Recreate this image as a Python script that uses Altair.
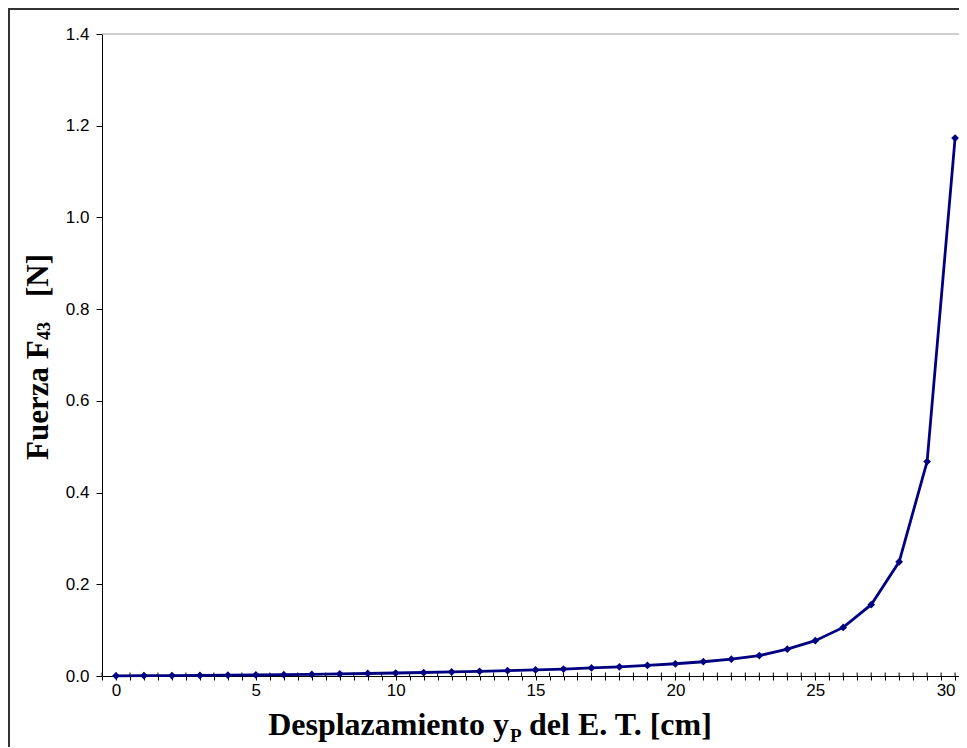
import altair as alt
import pandas as pd

# ---- data ----
desplazamiento = list(range(0, 31))
fuerza = [0.0004, 0.0006, 0.0009, 0.0013, 0.0017, 0.0022, 0.0028, 0.0036, 0.0045, 0.0055,
          0.0065, 0.0076, 0.0088, 0.0101, 0.0116, 0.0133, 0.0152, 0.0175, 0.0201, 0.0231,
          0.0267, 0.0311, 0.0366, 0.0445, 0.0585, 0.0770, 0.1060, 0.1555, 0.2490, 0.4675,
          1.1730]

y_ticks = [0.0, 0.2, 0.4, 0.6, 0.8, 1.0, 1.2, 1.4]
x_ticks = [i / 2 for i in range(-1, 61)]        # every 0.5 cm, labelled every 5
x_domain = [-0.5, 30.14]

x_title_main = "Desplazamiento y"
x_title_sub = "P"
x_title_rest = "del E. T. [cm]"
y_title_main = "Fuerza F"
y_title_sub = "43"
y_title_rest = "[N]"

W, H = 857, 642
NAVY = "#000080"
SERIF = "Liberation Serif"
SANS = "Liberation Sans"

df = pd.DataFrame({"x": desplazamiento, "y": fuerza})
ticks_df = pd.DataFrame({"t": x_ticks})
top_df = pd.DataFrame({"v": [y_ticks[-1]]})
one = pd.DataFrame({"k": [0]})

xs = alt.Scale(domain=x_domain, nice=False, zero=False)
ys = alt.Scale(domain=[y_ticks[0], y_ticks[-1]], nice=False)

x_axis = alt.Axis(values=x_ticks,
                  labelExpr="(round(datum.value * 2) % 10 == 0) ? format(datum.value, 'd') : ''",
                  labelAlign=alt.condition("datum.value >= 30", alt.value("right"), alt.value("center")),
                  labelOverlap=False, grid=False, tickSize=4, tickColor="black",
                  domainColor="black", labelFont=SANS, labelFontSize=17, labelColor="black",
                  labelPadding=2, title=None, labelFlush=False, labelBound=False)
y_axis = alt.Axis(values=y_ticks, format=".1f", grid=False, tickSize=6, tickColor="black",
                  domainColor="black", labelFont=SANS, labelFontSize=17, labelColor="black",
                  labelPadding=7, title=None)

# upper halves of the crossing ticks on the x axis
inner_ticks = alt.Chart(ticks_df).mark_rule(color="black", strokeWidth=1).encode(
    x=alt.X("t:Q", scale=xs, axis=x_axis),
    y=alt.value(H),
    y2=alt.value(H - 3.5),
)

line = alt.Chart(df).mark_line(color=NAVY, strokeWidth=2.8, clip=False).encode(
    x=alt.X("x:Q", scale=xs, axis=x_axis),
    y=alt.Y("y:Q", scale=ys, axis=y_axis),
)
points = alt.Chart(df).mark_point(shape="diamond", filled=True, color=NAVY, size=60, opacity=1).encode(
    x=alt.X("x:Q", scale=xs, axis=x_axis),
    y=alt.Y("y:Q", scale=ys, axis=y_axis),
)

# gray line at the top of the plot (1.4)
top_line = alt.Chart(top_df).mark_rule(color="#a0a0a0", strokeWidth=1.2).encode(
    y=alt.Y("v:Q", scale=ys, axis=y_axis),
    x=alt.value(0),
    x2=alt.value(W),
)

# outer chart border (left and top edges; the rest lies outside the picture)
border_left = alt.Chart(one).mark_rule(color="#333333", strokeWidth=2).encode(
    x=alt.value(-93), y=alt.value(-25), y2=alt.value(H + 200),
)
border_top = alt.Chart(one).mark_rule(color="#333333", strokeWidth=2).encode(
    y=alt.value(-25), x=alt.value(-94), x2=alt.value(W + 200),
)

def txt(text, x, y, size, align="left", angle=0, baseline="alphabetic"):
    return alt.Chart(one).mark_text(text=text, font=SERIF, fontWeight="bold", fontSize=size,
                                    color="black", align=align, baseline=baseline,
                                    angle=angle).encode(x=alt.value(x), y=alt.value(y))

# x axis title with subscript (positions relative to plot origin at page (102,34))
xt1 = txt(x_title_main, 407, 701, 32, align="right")
xt2 = txt(x_title_sub, 408, 708, 19)
xt3 = txt(x_title_rest, 427, 701, 32)

# y axis title (rotated) with subscript
yt1 = txt(y_title_main, -54, 426, 31, angle=270)
yt2 = txt(y_title_sub, -52, 306, 18, angle=270)
yt3 = txt(y_title_rest, -54, 263, 31, angle=270)

chart = alt.layer(border_left, border_top, top_line, inner_ticks, line, points,
                  xt1, xt2, xt3, yt1, yt2, yt3).properties(
    width=W, height=H,
    autosize=alt.AutoSizeParams(type="none"),
    padding={"left": 94, "top": 26, "right": 0, "bottom": 71},
).configure_view(stroke=None)

chart.save("out.html", embed_options={"renderer": "svg", "actions": False})
